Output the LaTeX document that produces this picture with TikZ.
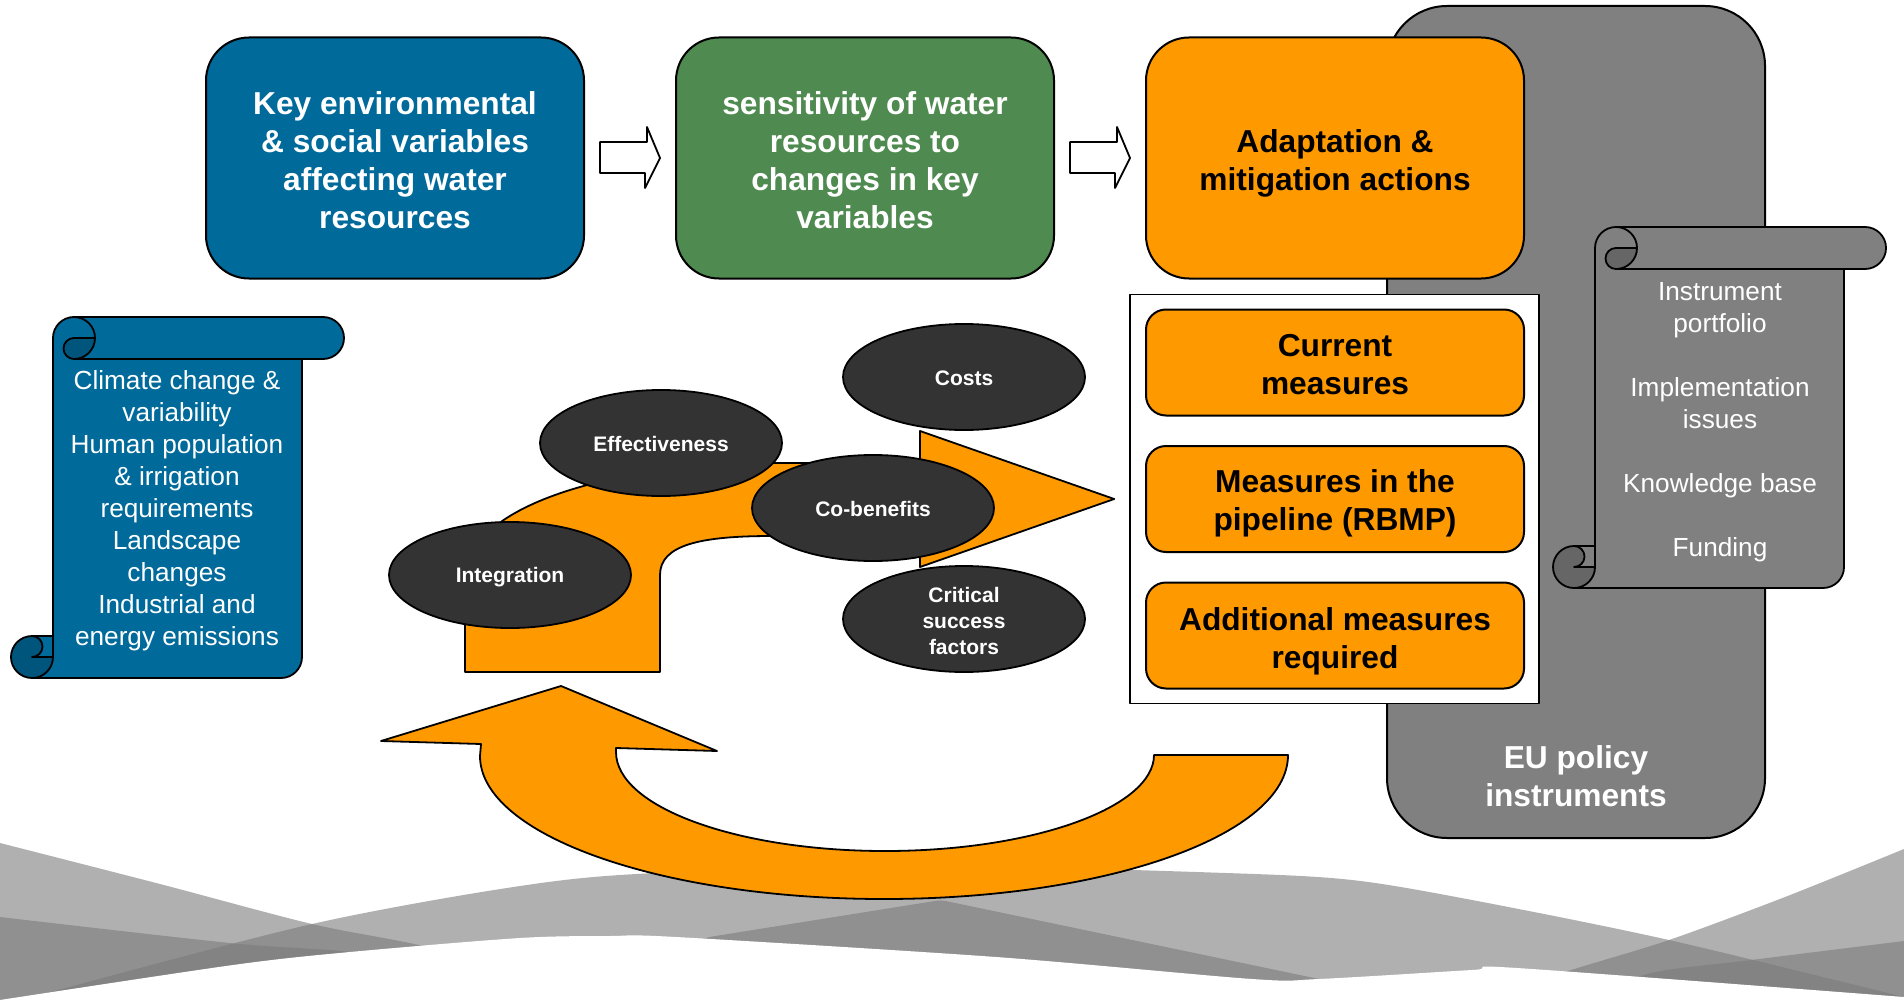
\documentclass[tikz,border=0pt]{standalone}
\usepackage{fontspec}
\setmainfont{Liberation Sans}
\usetikzlibrary{shapes.geometric,calc}
\definecolor{kblue}{RGB}{0,106,155}
\definecolor{kbluedark}{RGB}{0,85,124}
\definecolor{kgreen}{RGB}{79,138,80}
\definecolor{korange}{RGB}{255,153,0}
\definecolor{kgray}{RGB}{128,128,128}
\definecolor{kgraydark}{RGB}{102,102,102}
\definecolor{kellipse}{RGB}{51,51,51}
\definecolor{kwave}{RGB}{122,122,122}
\tikzset{
 topbox/.style={draw=black, line width=1pt, rounded corners=21.5pt, minimum width=189pt, minimum height=120.5pt, inner sep=0pt},
 measurebox/.style={draw=black, line width=1pt, fill=korange, rounded corners=10pt, minimum width=189pt, minimum height=53pt, inner sep=0pt},
 boxtext/.style={align=center, inner sep=0pt, font=\fontsize{15.85}{19}\selectfont\bfseries},
 factor/.style={ellipse, draw=black, line width=0.9pt, fill=kellipse, minimum width=121pt, minimum height=53pt, inner sep=0pt},
 factortext/.style={text=white, align=center, inner sep=0pt, font=\fontsize{10.5}{13}\selectfont\bfseries},
 wave/.style={fill=kwave, fill opacity=0.594},
 blockarrow/.style={draw=black, line width=0.9pt, fill=korange},
 hollowarrow/.style={draw=black, line width=0.9pt, fill=white},
 scrolltext/.style={text=white, align=center, inner sep=0pt, font=\fontsize{13.1}{16}\selectfont},
 scrollline/.style={draw=black, line width=0.9pt},
}
% scroll of 333 x 361 px with its top left corner at (#1,#2)
\newcommand\drawscroll[4]{%
 \begin{scope}[shift={(#1,#2)}]
  \fill[#3] (21,361) arc[start angle=90, end angle=270, radius=21] -- (42,319) -- (42,21)
    arc[start angle=180, end angle=270, radius=21] -- (312,0)
    arc[start angle=270, end angle=450, radius=21] -- (291,42) -- (291,340)
    arc[start angle=0, end angle=90, radius=21] -- cycle;
  \fill[#4] (84,21) arc[start angle=0, end angle=90, radius=21] arc[start angle=90, end angle=270, radius=10.5] -- cycle;
  \fill[#4] (42,340) arc[start angle=0, end angle=270, radius=21] arc[start angle=270, end angle=450, radius=10.5] -- cycle;
  \draw[scrollline] (42,319) -- (42,21) arc[start angle=180, end angle=270, radius=21] -- (312,0)
    arc[start angle=270, end angle=450, radius=21] -- (291,42) -- (291,340)
    arc[start angle=0, end angle=90, radius=21] -- (21,361)
    arc[start angle=90, end angle=270, radius=21] -- cycle;
  \draw[scrollline] (63,0) arc[start angle=270, end angle=450, radius=21] arc[start angle=90, end angle=270, radius=10.5] -- (84,21);
  \draw[scrollline] (291,42) -- (63,42);
  \draw[scrollline] (21,319) arc[start angle=270, end angle=450, radius=10.5] -- (42,340);
  \draw[scrollline] (21,361) arc[start angle=90, end angle=0, radius=21] -- (42,319);
 \end{scope}}
\begin{document}
\begin{tikzpicture}[x=0.5pt,y=-0.5pt,line join=round]
\useasboundingbox (0,0) rectangle (1904,1000);
% background waves
\fill[wave] plot[smooth,tension=0.5] coordinates {(0,843) (160,884) (312,924) (423,946) (520,975) (580,1000)} -- (0,1000) -- cycle;
\fill[wave] plot[smooth,tension=0.5] coordinates {(0,917) (230,943) (350,952) (450,970) (520,1000)} -- (0,1000) -- cycle;
\fill[wave] plot[smooth,tension=0.5] coordinates {(0,1008) (47,993) (312,924) (520,886) (656,873) (940,866) (1226,873) (1352,880) (1472,900) (1669,940) (1904,997)} -- (1904,1008) -- cycle;
\fill[wave, rounded corners=2pt] (600,975) -- (709,937) -- (941,900) -- (1319,979) -- (1400,1000) -- (600,1000) -- cycle;
\fill[wave] plot[smooth,tension=0.5] coordinates {(1480,1000) (1571,970) (1669,940) (1785,897) (1904,849)} -- (1904,1000) -- cycle;
\fill[wave] plot[smooth,tension=0.5] coordinates {(1580,1000) (1651,973) (1751,960) (1904,941)} -- (1904,1000) -- cycle;
\fill[white] plot[smooth,tension=0.5] coordinates {(0,1000) (233,965) (350,952) (520,938) (610,936) (676,937) (996,957) (1252,979) (1319,979) (1472,970) (1517,968) (1904,997)} -- (1904,1010) -- (0,1010) -- cycle;

% EU policy block
\node[draw=black, line width=1pt, fill=kgray, rounded corners=30pt, minimum width=189pt, minimum height=416pt, inner sep=0pt] (eu) at (1576,422) {};
\node[boxtext, text=white] (eutext) at (1576,776) {EU policy\\instruments};

% top row
\node[topbox, fill=kblue] (keyvars) at (395,158) {};
\node[boxtext, text=white] (keyvarstext) at ($(keyvars)+(0,2.5)$) {Key environmental\\\& social variables\\affecting water\\resources};
\node[topbox, fill=kgreen] (sens) at (865,158) {};
\node[boxtext, text=white] (senstext) at ($(sens)+(0,2.5)$) {sensitivity of water\\resources to\\changes in key\\variables};
\node[topbox, fill=korange] (adapt) at (1335,158) {};
\node[boxtext, text=black] (adapttext) at ($(adapt)+(0,5)$) {Adaptation \&\\mitigation actions};

% measures
\node[draw=black, line width=0.8pt, fill=white, minimum width=204.5pt, minimum height=204.5pt, inner sep=0pt] (frame) at (1334.5,499) {};
\node[measurebox] (current) at (1335,362.5) {};
\node[boxtext] (currenttext) at ($(current)+(0,2)$) {Current\\measures};
\node[measurebox] (pipeline) at (1335,499) {};
\node[boxtext] (pipelinetext) at ($(pipeline)+(0,4)$) {Measures in the\\pipeline (RBMP)};
\node[measurebox] (additional) at (1335,635.5) {};
\node[boxtext] (additionaltext) at ($(additional)+(0,5.5)$) {Additional measures\\required};

% right scroll
\drawscroll{1553}{227}{kgray}{kgraydark}
\node[scrolltext] (instr) at (1720,422) {Instrument\\portfolio\\[16pt]Implementation\\issues\\[16pt]Knowledge base\\[16pt]Funding};

% hollow arrows
\draw[hollowarrow] ($(keyvars.east)+(15,-16)$) -- ++(47,0) -- ++(0,-15) -- ($(sens.west)+(-15,0)$) -- ($(sens.west)+(-30,30)$) -- ++(0,-15) -- ($(keyvars.east)+(15,15)$) -- cycle;
\draw[hollowarrow] ($(sens.east)+(15,-16)$) -- ++(47,0) -- ++(0,-15) -- ($(adapt.west)+(-15,0)$) -- ($(adapt.west)+(-30,30)$) -- ++(0,-15) -- ($(sens.east)+(15,15)$) -- cycle;

% bent arrow
\coordinate (bendtip) at ($(frame.west)+(-15,0)$);
\draw[blockarrow] (465,672) -- (465,580) .. controls (465,500) and (630,463) .. (772,463) -- (920,463) -- (920,431) -- (bendtip) -- (920,567) -- (920,536) -- (772,536) .. controls (700,536) and (660,545) .. (660,575) -- (660,672) -- cycle;

% factors
\node[factor] (costs) at (964,377) {};
\node[factortext] (coststext) at ($(costs)+(0,1)$) {Costs};
\node[factor] (effect) at (661,443) {};
\node[factortext] (effecttext) at ($(effect)+(0,1)$) {Effectiveness};
\node[factor] (cobenefits) at (873,508) {};
\node[factortext] (cobenefitstext) at ($(cobenefits)+(0,1)$) {Co-benefits};
\node[factor] (integration) at (510,575) {};
\node[factortext] (integrationtext) at ($(integration)+(0,2.5)$) {Integration};
\node[factor] (critical) at (964,619) {};
\node[factortext] (criticaltext) at ($(critical)+(0,1.5)$) {Critical\\success\\factors};

% return arrow
\draw[blockarrow] (481,744) -- (381,741) -- (561,686) -- (717,751) -- (616,748) -- (616,752) .. controls (616,807) and (737,851) .. (885,851) .. controls (1034,851) and (1154,807) .. (1154,755) -- (1288,755) .. controls (1288,835) and (1107,899) .. (884,899) .. controls (661,899) and (480,835) .. (480,756) -- cycle;

% left scroll
\drawscroll{11}{317}{kblue}{kbluedark}
\node[scrolltext] (drivers) at (177,511) {Climate change \&\\variability\\Human population\\\& irrigation\\requirements\\Landscape\\changes\\Industrial and\\energy emissions};
\end{tikzpicture}
\end{document}
